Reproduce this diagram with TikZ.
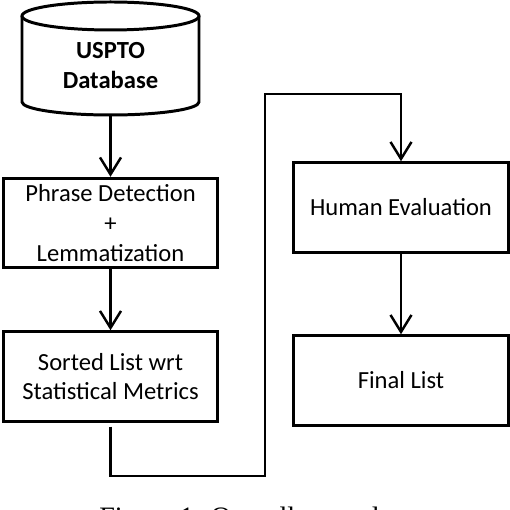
\documentclass[tikz,border=0pt]{standalone}
\usepackage{fontspec}
\setmainfont{Carlito}
\newfontfamily\captionfont{Liberation Serif}
\usetikzlibrary{arrows.meta}

\begin{document}
\begin{tikzpicture}[x=0.02cm, y=0.02cm, every node/.style={font=\fontsize{14}{17}\selectfont},
	box/.style={draw, line width=1.7pt, minimum width=4.3cm, minimum height=1.79cm, align=center, inner sep=0pt},
	flow/.style={line width=1.4pt, -{Straight Barb[length=3.4mm, width=4.2mm]}}]
	\useasboundingbox (0,0) rectangle (510,510);
	\clip (0,0) rectangle (510,510);
	% database cylinder
	\node[minimum width=3.54cm, minimum height=1.98cm, inner sep=0pt, align=center, font=\bfseries\fontsize{14}{17.5}\selectfont] (db) at (110.5,444.5) {USPTO\\Database};
	\draw[line width=1.7pt] (22,494) -- (22,408) arc[start angle=180, end angle=360, x radius=88.5, y radius=13] -- (199,494);
	\draw[line width=1.7pt] (110.5,494) ellipse[x radius=88.5, y radius=14];
	% steps
	\node[box] (phrase) at (110.5,287) {Phrase Detection\\+\\Lemmatization};
	\node[box] (sorted) at (110.5,133.5) {Sorted List wrt\\Statistical Metrics};
	\node[box, minimum width=4.32cm] (human) at (401,302.5) {Human Evaluation};
	\node[box, minimum width=4.32cm] (final) at (401,129.5) {Final List};
	\foreach \a/\b in {db/phrase, phrase/sorted, human/final}
		\draw[flow] (\a) -- (\b);
	% jump to the second column
	\coordinate (bend) at (265,416);
	\draw[flow] ([yshift=-0.8mm]sorted.south) -- ++(0,-49) -| (bend) -| (human.north);
	\node[font=\captionfont\fontsize{16}{19}\selectfont, anchor=base] (caption) at (257,-16) {Figure 1: Overall procedure};
\end{tikzpicture}
\end{document}
